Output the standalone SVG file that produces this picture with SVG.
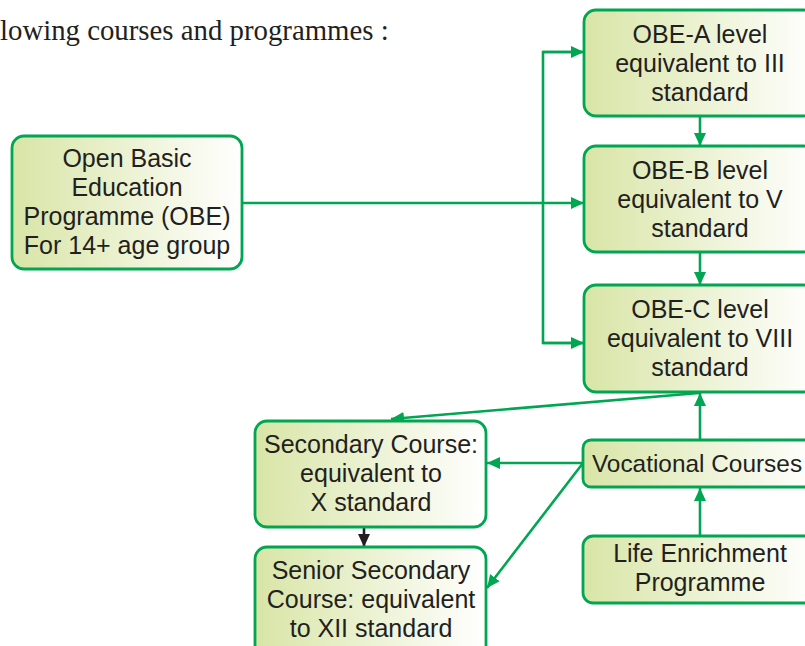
<svg xmlns="http://www.w3.org/2000/svg" width="805" height="646" viewBox="0 0 805 646">
<style>
.box{stroke:#00a651;stroke-width:2.8;fill:url(#g)}
.t{font-family:"Liberation Sans",Arial,sans-serif;font-size:25px;fill:#231f20;text-anchor:middle}
.c{stroke:#00a651;stroke-width:2.6;fill:none}
.k{stroke:#231f20;stroke-width:2.6;fill:none}
</style>
<defs>
<linearGradient id="g" x1="0" y1="0" x2="1" y2="0">
<stop offset="0" stop-color="#d8e5a6"/>
<stop offset="1" stop-color="#ffffff"/>
</linearGradient>
<marker id="a" markerUnits="userSpaceOnUse" markerWidth="13" markerHeight="12" refX="13" refY="6" orient="auto">
<path d="M0,0 L13,6 L0,12 z" fill="#00a651"/>
</marker>
<marker id="ak" markerUnits="userSpaceOnUse" markerWidth="13" markerHeight="12" refX="13" refY="6" orient="auto">
<path d="M0,0 L13,6 L0,12 z" fill="#231f20"/>
</marker>
</defs>
<rect width="805" height="646" fill="#ffffff"/>
<text x="0" y="40" font-family="Liberation Serif,'Times New Roman',serif" font-size="28.8" fill="#231f20">lowing courses and programmes :</text>

<g id="connectors">
<line class="c" x1="243" y1="203" x2="584" y2="203" marker-end="url(#a)"/>
<polyline class="c" points="584,52 543,52 543,343 584,343"/>
<line class="c" x1="543" y1="52" x2="584" y2="52" marker-end="url(#a)"/>
<line class="c" x1="543" y1="343" x2="584" y2="343" marker-end="url(#a)"/>
<line class="c" x1="700" y1="117" x2="700" y2="146" marker-end="url(#a)"/>
<line class="c" x1="700" y1="253" x2="700" y2="285" marker-end="url(#a)"/>
<line class="c" x1="699" y1="393" x2="391" y2="419" marker-end="url(#a)"/>
<line class="c" x1="700" y1="440" x2="700" y2="393" marker-end="url(#a)"/>
<line class="c" x1="583" y1="463" x2="487" y2="463" marker-end="url(#a)"/>
<line class="c" x1="583" y1="463" x2="487" y2="588" marker-end="url(#a)"/>
<line class="c" x1="700" y1="536" x2="700" y2="488" marker-end="url(#a)"/>
<line class="k" x1="364" y1="527" x2="364" y2="547" marker-end="url(#ak)"/>
</g>

<g id="obe">
<rect class="box" x="12" y="136" width="230" height="133" rx="12"/>
<text class="t" x="127" y="167">Open Basic</text>
<text class="t" x="127" y="196">Education</text>
<text class="t" x="127" y="225">Programme (OBE)</text>
<text class="t" x="127" y="254">For 14+ age group</text>
</g>

<g id="obe-a">
<rect class="box" x="584" y="10" width="232" height="106" rx="12"/>
<text class="t" x="700" y="43">OBE-A level</text>
<text class="t" x="700" y="72">equivalent to III</text>
<text class="t" x="700" y="101">standard</text>
</g>

<g id="obe-b">
<rect class="box" x="584" y="146" width="232" height="106" rx="12"/>
<text class="t" x="700" y="179">OBE-B level</text>
<text class="t" x="700" y="208">equivalent to V</text>
<text class="t" x="700" y="237">standard</text>
</g>

<g id="obe-c">
<rect class="box" x="584" y="285" width="232" height="107" rx="12"/>
<text class="t" x="700" y="318">OBE-C level</text>
<text class="t" x="700" y="347">equivalent to VIII</text>
<text class="t" x="700" y="376">standard</text>
</g>

<g id="vocational">
<rect class="box" x="583" y="440" width="233" height="47" rx="8"/>
<text class="t" x="697" y="472" style="font-size:24.4px">Vocational Courses</text>
</g>

<g id="life">
<rect class="box" x="583" y="536" width="233" height="67" rx="10"/>
<text class="t" x="700" y="562">Life Enrichment</text>
<text class="t" x="700" y="591">Programme</text>
</g>

<g id="secondary">
<rect class="box" x="255" y="421" width="231" height="106" rx="12"/>
<text class="t" x="371" y="453">Secondary Course:</text>
<text class="t" x="371" y="482">equivalent to</text>
<text class="t" x="371" y="511">X standard</text>
</g>

<g id="senior">
<rect class="box" x="255" y="547" width="231" height="120" rx="12"/>
<text class="t" x="371" y="579">Senior Secondary</text>
<text class="t" x="371" y="608">Course: equivalent</text>
<text class="t" x="371" y="637">to XII standard</text>
</g>
</svg>
